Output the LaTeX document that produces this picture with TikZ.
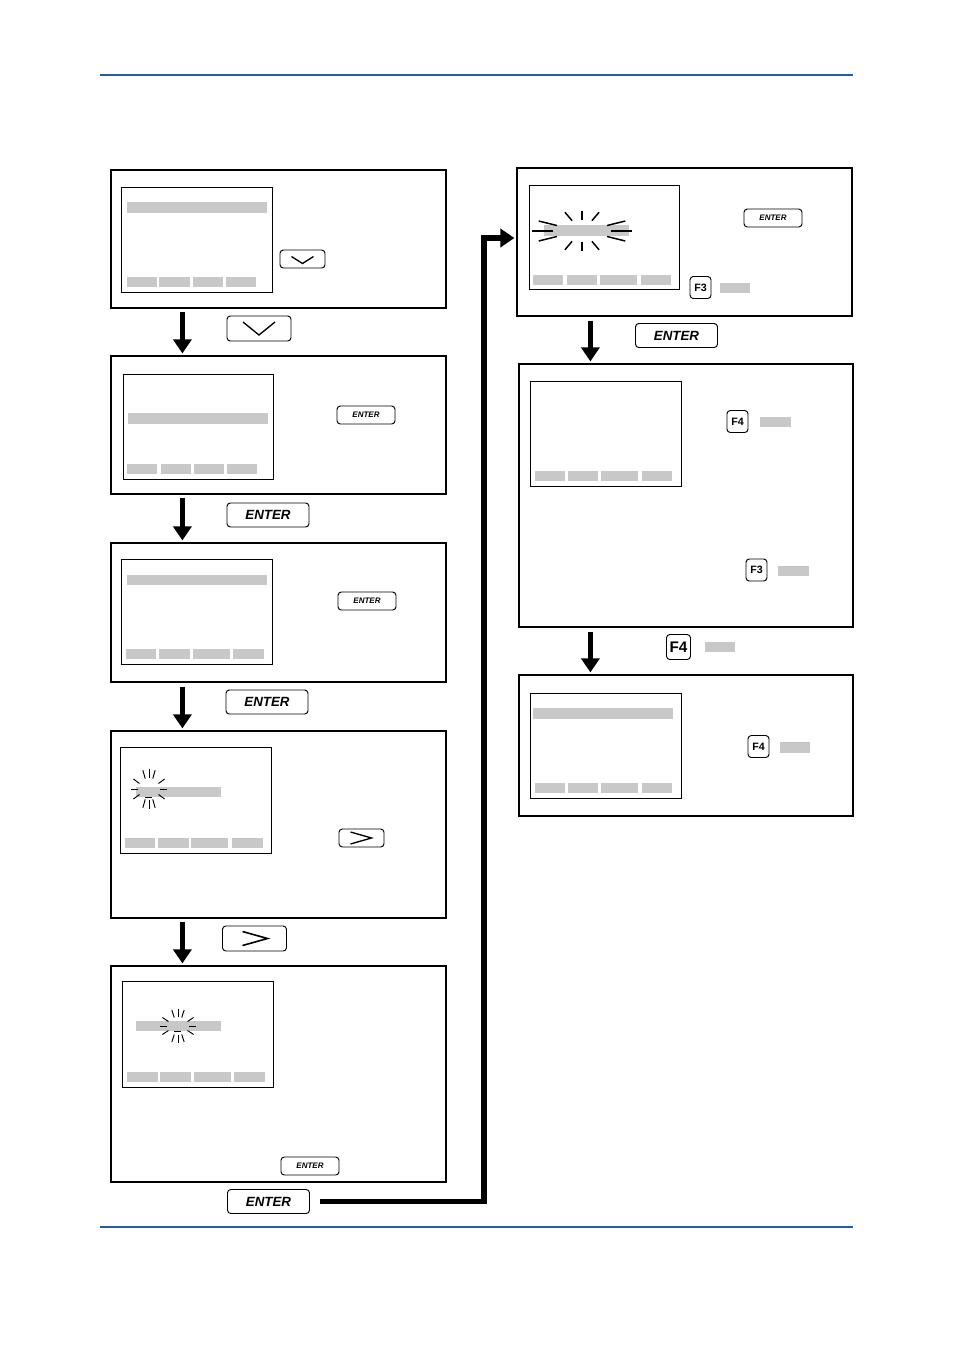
\documentclass[tikz,border=0pt]{standalone}
\usepackage{fontspec}
\setmainfont{Liberation Sans}
\usetikzlibrary{arrows.meta,positioning,fit,calc}
\definecolor{rulecol}{HTML}{1F5BB5}
\definecolor{lcd}{HTML}{C8C8C8}

\begin{document}
\begin{tikzpicture}[x=0.75pt,y=-0.75pt,>=Latex,
 panel/.style={draw,line width=0.9pt,inner sep=0pt},
 screen/.style={draw,line width=0.75pt,inner sep=0pt},
 keybase/.style={draw,rounded corners=2.5pt,line width=0.7pt,inner sep=0pt,fill=white},
 bigkey/.style={keybase,minimum width=61.5pt,minimum height=18pt,font=\fontsize{10}{10}\selectfont\bfseries\itshape},
 smallkey/.style={keybase,minimum width=43.5pt,minimum height=13.5pt,font=\fontsize{6}{6}\selectfont\bfseries\itshape},
 bigarrowkey/.style={keybase,minimum width=48pt,minimum height=18.75pt},
 smallarrowkey/.style={keybase,minimum width=33.75pt,minimum height=13.5pt},
 fkey/.style={keybase,minimum width=15.75pt,minimum height=16.5pt,font=\fontsize{8}{8}\selectfont\bfseries},
 bigfkey/.style={keybase,minimum width=18pt,minimum height=18.75pt,font=\fontsize{11.5}{11.5}\selectfont\bfseries},
 sym/.style={line width=1pt},
 ray/.style={line width=0.7pt},
 flow/.style={line width=3.8pt,-{Triangle[length=10.5pt,width=13.5pt]}}]
\useasboundingbox (0,0) rectangle (954,1350);

% page rules
\draw[rulecol,line width=2.2pt] (100,75) -- (853,75);
\draw[rulecol,line width=1.8pt] (100,1227) -- (853,1227);

% panels, left column
\node[panel,fit={(111,170)(446,308)}] (p1) {};
\node[panel,fit={(111,356)(446,494)}] (p2) {};
\node[panel,fit={(111,543)(446,682)}] (p3) {};
\node[panel,fit={(111,731)(446,918)}] (p4) {};
\node[panel,fit={(111,966)(446,1182)}] (p5) {};
% panels, right column
\node[panel,fit={(517,168)(852,316)}] (p6) {};
\node[panel,fit={(519,364)(853,627)}] (p7) {};
\node[panel,fit={(519,675)(853,816)}] (p8) {};

% screens
\node[screen,fit={(121,187)(272,292)}] (s1) {};
\node[screen,fit={(123,374)(273,479)}] (s2) {};
\node[screen,fit={(121,559)(272,664)}] (s3) {};
\node[screen,fit={(120,747)(271,853)}] (s4) {};
\node[screen,fit={(122,981)(273,1087)}] (s5) {};
\node[screen,fit={(529,185)(679,289)}] (s6) {};
\node[screen,fit={(530,381)(681,486)}] (s7) {};
\node[screen,fit={(530,693)(681,798)}] (s8) {};

% display lines
\fill[lcd] (127,202) rectangle (267,213);
\fill[lcd] (128,413) rectangle (268,424);
\fill[lcd] (127,575) rectangle (267,585);
\fill[lcd] (136,787) rectangle (221,797);
\fill[lcd] (136,1021) rectangle (221,1031);
\fill[lcd] (544,225) rectangle (629,236);
\fill[lcd] (533,708) rectangle (673,719);

% soft key fields
\foreach \a/\b in {127/157,159/190,193/223,226/256} \fill[lcd] (\a,277) rectangle (\b,287);
\foreach \a/\b in {127/157,161/191,194/224,227/257} \fill[lcd] (\a,464) rectangle (\b,474);
\foreach \a/\b in {126/156,159/190,193/230,233/264} \fill[lcd] (\a,649) rectangle (\b,659);
\foreach \a/\b in {125/155,158/189,191/228,232/263} \fill[lcd] (\a,838) rectangle (\b,848);
\foreach \a/\b in {127/158,160/191,194/231,234/265} \fill[lcd] (\a,1072) rectangle (\b,1082);
\foreach \a/\b in {533/563,567/597,600/637,641/671} \fill[lcd] (\a,275) rectangle (\b,285);
\foreach \a/\b in {535/565,568/598,601/638,642/672} \fill[lcd] (\a,471) rectangle (\b,481);
\foreach \a/\b in {535/565,568/598,601/638,642/672} \fill[lcd] (\a,783) rectangle (\b,793);

% blinking marks
\coordinate (bl4) at (149,789);
\coordinate (bl5) at (178,1026);
\coordinate (bl6) at (582,231);
\foreach \t in {0,30,70,90,110,150,180,210,250,270,290,330} {
  \draw[ray] ($(bl4)+({11*cos(\t)},{11*sin(\t)})$) -- ($(bl4)+({18*cos(\t)},{20*sin(\t)})$);
  \draw[ray] ($(bl5)+({11*cos(\t)},{9*sin(\t)})$) -- ($(bl5)+({18*cos(\t)},{17*sin(\t)})$);
  \draw[line width=1.1pt] ($(bl6)+({29*cos(\t)},{11*sin(\t)})$) -- ($(bl6)+({50*cos(\t)},{20*sin(\t)})$);
}
\draw[ray] (145,797.5) -- (152,797.5);
\draw[ray] (174,1031) -- (181,1031);

% keys in panels
\node[smallarrowkey] (kd1) at (302.5,259) {};
\draw[sym] ($(kd1)+(-11,-2.5)$) -- ($(kd1)+(0,4.5)$) -- ($(kd1)+(11,-2.5)$);
\node[smallkey] (ke2) at (366,415) {ENTER};
\node[smallkey] (ke3) at (367,601) {ENTER};
\node[smallarrowkey] (kr4) at (361.5,838) {};
\draw[sym] ($(kr4)+(-11,-6)$) -- ($(kr4)+(10,0)$) -- ($(kr4)+(-11,6)$);
\node[smallkey] (ke5) at (310,1166) {ENTER};
\node[smallkey] (ke6) at (773,218) {ENTER};
\node[fkey] (kf6) at (700.5,287.5) {F3};
\fill[lcd] (720,283) rectangle (750,293);
\node[fkey] (kf7a) at (737.5,421.5) {F4};
\fill[lcd] (760,417) rectangle (791,427);
\node[fkey] (kf7b) at (756.5,570) {F3};
\fill[lcd] (778,566) rectangle (809,576);
\node[fkey] (kf8) at (758.5,746.5) {F4};
\fill[lcd] (780,742) rectangle (810,753);

% keys between panels
\node[bigarrowkey] (KD1) at (259,328.5) {};
\draw[sym] ($(KD1)+(-16,-6.5)$) -- ($(KD1)+(0,6.5)$) -- ($(KD1)+(16,-6.5)$);
\node[bigkey] (KE2) at (268,515) {ENTER};
\node[bigkey] (KE3) at (267,702) {ENTER};
\node[bigarrowkey] (KR4) at (254.5,938.5) {};
\draw[line width=1.2pt] ($(KR4)+(-12,-7)$) -- ($(KR4)+(13,0)$) -- ($(KR4)+(-12,7)$);
\node[bigkey] (KE5) at (268.5,1201.5) {ENTER};
\node[bigkey] (KE6) at (676.5,335.5) {ENTER};
\node[bigfkey] (KF7) at (678.5,647) {F4};
\fill[lcd] (705,642) rectangle (735,652);

% flow arrows
\draw[flow] ($(p1.south west)+(72,3)$) -- ($(p2.north west)+(72,-2)$);
\draw[flow] ($(p2.south west)+(72,3)$) -- ($(p3.north west)+(72,-2)$);
\draw[flow] ($(p3.south west)+(72,4)$) -- ($(p4.north west)+(72,-2)$);
\draw[flow] ($(p4.south west)+(72,3)$) -- ($(p5.north west)+(72,-2)$);
\draw[flow] ($(p6.south west)+(74,4)$) -- ($(p7.north west)+(72,-2)$);
\draw[flow] ($(p7.south west)+(72,4)$) -- ($(p8.north west)+(72,-2)$);
\draw[flow] ([xshift=7.5pt]KE5.east) -- ++(164,0) |- ([xshift=-1.5pt,yshift=3pt]p6.west);
\end{tikzpicture}
\end{document}
